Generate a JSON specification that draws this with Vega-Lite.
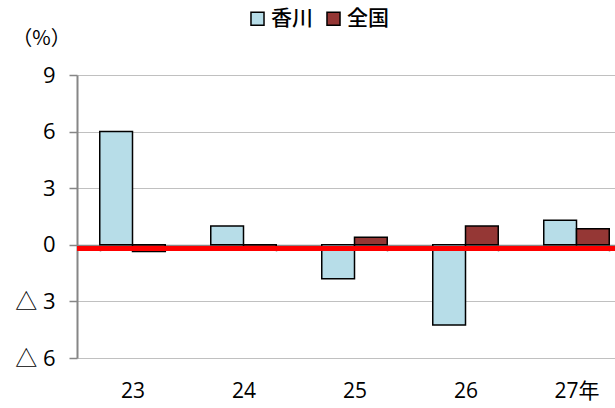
{
  "$schema": "https://vega.github.io/schema/vega-lite/v6.json",
  "width": 555,
  "height": 283,
  "autosize": {"type": "none"},
  "padding": {"left": 77, "top": 75, "right": 0, "bottom": 50},
  "background": "white",
  "config": {"view": {"stroke": null}, "font": "Open Sans"},
  "data": {
    "values": [
      {"year": "23", "region": "香川", "value": 6.0},
      {"year": "23", "region": "全国", "value": -0.35},
      {"year": "24", "region": "香川", "value": 1.0},
      {"year": "24", "region": "全国", "value": -0.2},
      {"year": "25", "region": "香川", "value": -1.8},
      {"year": "25", "region": "全国", "value": 0.4},
      {"year": "26", "region": "香川", "value": -4.25},
      {"year": "26", "region": "全国", "value": 1.0},
      {"year": "27年", "region": "香川", "value": 1.3},
      {"year": "27年", "region": "全国", "value": 0.85}
    ]
  },
  "layer": [
    {
      "mark": {"type": "bar", "stroke": "black", "strokeWidth": 1.5},
      "encoding": {
        "x": {
          "field": "year",
          "type": "nominal",
          "sort": null,
          "scale": {"paddingInner": 0.41, "paddingOuter": 0.205},
          "axis": {
            "orient": "bottom",
            "offset": -113,
            "title": null,
            "grid": false,
            "domainColor": "#868686",
            "domainWidth": 1.5,
            "ticks": true,
            "tickBand": "extent",
            "tickSize": 6,
            "tickColor": "#868686",
            "tickWidth": 1.5,
            "labelAngle": 0,
            "labelPadding": 129,
            "labelFontSize": 21,
            "labelColor": "black",
            "labelFont": "Open Sans, Noto Sans CJK JP"
          }
        },
        "xOffset": {
          "field": "region",
          "type": "nominal",
          "sort": ["香川", "全国"],
          "scale": {"paddingInner": 0, "paddingOuter": 0}
        },
        "y": {
          "field": "value",
          "type": "quantitative",
          "scale": {"domain": [-6, 9], "nice": false, "zero": false},
          "axis": {
            "values": [-6, -3, 0, 3, 6, 9],
            "labelExpr": "datum.value < 0 ? '△ ' + abs(datum.value) : datum.value",
            "grid": true,
            "gridColor": "#c0c0c0",
            "gridWidth": 1,
            "domainColor": "#868686",
            "domainWidth": 2,
            "tickColor": "#868686",
            "tickSize": 8,
            "tickWidth": 1.5,
            "labelPadding": 14,
            "labelFontSize": 22,
            "labelColor": "black",
            "labelFont": "Open Sans, Noto Sans CJK JP",
            "title": "（%）",
            "titleFont": "Noto Sans CJK JP",
            "titleFontSize": 20,
            "titleFontWeight": "normal",
            "titleAngle": 0,
            "titleAlign": "center",
            "titleBaseline": "middle",
            "titleX": -36,
            "titleY": -37,
            "titleColor": "black"
          }
        },
        "color": {
          "field": "region",
          "type": "nominal",
          "sort": ["香川", "全国"],
          "scale": {"domain": ["香川", "全国"], "range": ["#b7dde8", "#953735"]},
          "legend": {
            "orient": "none",
            "legendX": 170,
            "legendY": -67,
            "direction": "horizontal",
            "title": null,
            "symbolType": "square",
            "symbolSize": 170,
            "symbolStrokeColor": "black",
            "symbolStrokeWidth": 1.5,
            "symbolOpacity": 1,
            "labelFontSize": 21,
            "labelFont": "Noto Sans CJK JP",
            "labelFontWeight": 500,
            "labelColor": "black",
            "labelOffset": 3,
            "columnPadding": 10
          }
        }
      }
    },
    {
      "mark": {"type": "rule", "color": "#ff0000", "strokeWidth": 5},
      "encoding": {"y": {"datum": -0.2}}
    }
  ]
}
